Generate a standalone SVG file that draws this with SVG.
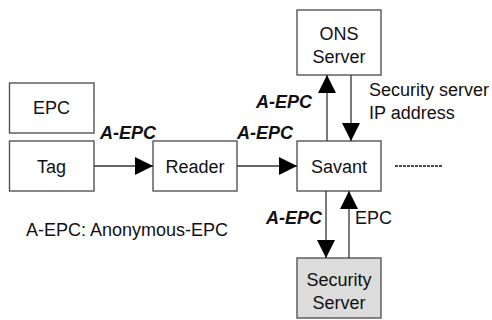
<svg xmlns="http://www.w3.org/2000/svg" width="492" height="320" viewBox="0 0 492 320">
<style>
.box{fill:#fff;stroke:#555;stroke-width:1.4}
.gray{fill:#dcdcdc}
.t{font-family:"Liberation Sans",Arial,sans-serif;font-size:18px;fill:#111}
.c{text-anchor:middle}
.b{font-weight:bold;font-style:italic}
.ln{stroke:#333;stroke-width:1.3;fill:none}
</style>
<defs>
<marker id="ah" markerUnits="userSpaceOnUse" markerWidth="18" markerHeight="18" refX="17" refY="8.5" orient="auto" viewBox="0 0 17 17">
<path d="M0,0 L17,8.5 L0,17 Z" fill="#000"/>
</marker>
</defs>
<rect width="492" height="320" fill="#fff"/>
<g id="epc"><rect class="box" x="9.5" y="83" width="84.5" height="50"/><text class="t c" x="51.5" y="114">EPC</text></g>
<g id="tag"><rect class="box" x="9.5" y="141" width="84.5" height="50"/><text class="t c" x="51.5" y="173">Tag</text></g>
<g id="reader"><rect class="box" x="153" y="141" width="84" height="50"/><text class="t c" x="195" y="173">Reader</text></g>
<g id="savant"><rect class="box" x="297" y="141" width="84" height="50"/><text class="t c" x="339" y="173">Savant</text></g>
<g id="ons"><rect class="box" x="297" y="10" width="84" height="65"/><text class="t c" x="339" y="40">ONS</text><text class="t c" x="339" y="63">Server</text></g>
<g id="security"><rect class="box gray" x="297" y="258" width="84" height="60"/><text class="t c" x="339" y="286">Security</text><text class="t c" x="339" y="309">Server</text></g>
<g id="connectors">
<line class="ln" x1="94" y1="166" x2="153" y2="166" marker-end="url(#ah)"/>
<line class="ln" x1="237" y1="166" x2="297" y2="166" marker-end="url(#ah)"/>
<line class="ln" x1="327" y1="141" x2="327" y2="75" marker-end="url(#ah)"/>
<line class="ln" x1="351" y1="75" x2="351" y2="141" marker-end="url(#ah)"/>
<line class="ln" x1="326" y1="191" x2="326" y2="258" marker-end="url(#ah)"/>
<line class="ln" x1="349" y1="258" x2="349" y2="191" marker-end="url(#ah)"/>
<line x1="395" y1="166" x2="442" y2="166" stroke="#111" stroke-width="1.3" stroke-dasharray="3,1"/>
</g>
<g id="labels">
<text class="t b" x="100" y="139">A-EPC</text>
<text class="t b" x="237" y="139">A-EPC</text>
<text class="t b" x="256" y="108">A-EPC</text>
<text class="t b" x="266" y="224">A-EPC</text>
<text class="t" x="355" y="224">EPC</text>
<text class="t" x="369" y="96">Security server</text>
<text class="t" x="369" y="119">IP address</text>
<text class="t" x="26" y="236">A-EPC: Anonymous-EPC</text>
</g>
</svg>
